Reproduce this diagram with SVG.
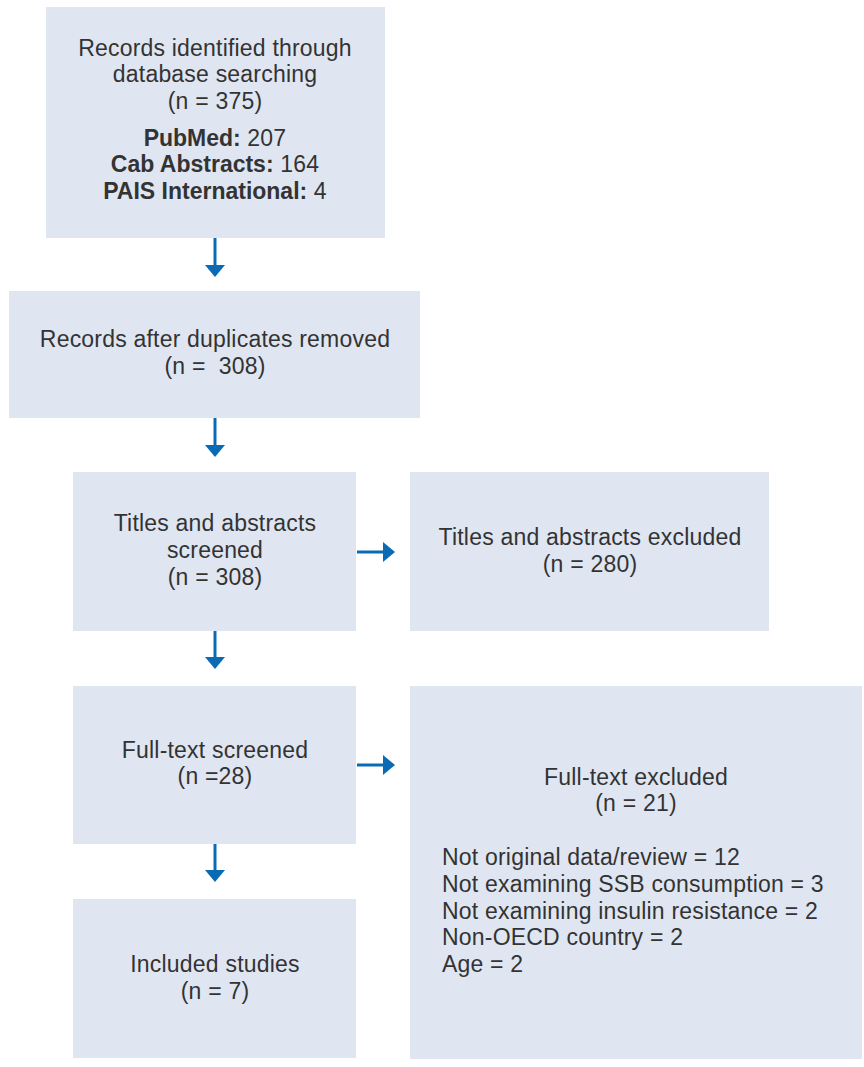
<svg xmlns="http://www.w3.org/2000/svg" width="864" height="1067" viewBox="0 0 864 1067">
<style>
.box{fill:#dfe6f2}
.t{font-family:"Liberation Sans",Arial,sans-serif;font-size:23px;letter-spacing:0.2px;fill:#333;text-anchor:middle}
.l{text-anchor:start}
.b{font-weight:bold;letter-spacing:0}
.c{stroke:#0a6ab4;stroke-width:3;fill:none}
.h{fill:#0a6ab4}
</style>
<rect width="864" height="1067" fill="#fff"/>
<g id="n1">
<rect class="box" x="46" y="7" width="339" height="231"/>
<text class="t" x="215" y="56">Records identified through</text>
<text class="t" x="215" y="82">database searching</text>
<text class="t" x="215" y="109">(n = 375)</text>
<text class="t" x="215" y="146"><tspan class="b">PubMed:</tspan> 207</text>
<text class="t" x="215" y="172"><tspan class="b">Cab Abstracts:</tspan> 164</text>
<text class="t" x="215" y="199"><tspan class="b">PAIS International:</tspan> 4</text>
</g>
<g id="n2">
<rect class="box" x="9" y="291" width="411" height="127"/>
<text class="t" x="215" y="347">Records after duplicates removed</text>
<text class="t" x="215" y="374" xml:space="preserve">(n =  308)</text>
</g>
<g id="n3">
<rect class="box" x="73" y="472" width="283" height="159"/>
<text class="t" x="215" y="531">Titles and abstracts</text>
<text class="t" x="215" y="558">screened</text>
<text class="t" x="215" y="585">(n = 308)</text>
</g>
<g id="n4">
<rect class="box" x="410" y="472" width="359" height="159"/>
<text class="t" x="590" y="545">Titles and abstracts excluded</text>
<text class="t" x="590" y="572">(n = 280)</text>
</g>
<g id="n5">
<rect class="box" x="73" y="686" width="283" height="158"/>
<text class="t" x="215" y="758">Full-text screened</text>
<text class="t" x="215" y="784">(n =28)</text>
</g>
<g id="n6">
<rect class="box" x="410" y="686" width="452" height="373"/>
<text class="t" x="636" y="785">Full-text excluded</text>
<text class="t" x="636" y="811">(n = 21)</text>
<text class="t l" x="442" y="865">Not original data/review = 12</text>
<text class="t l" x="442" y="892">Not examining SSB consumption = 3</text>
<text class="t l" x="442" y="919">Not examining insulin resistance = 2</text>
<text class="t l" x="442" y="945">Non-OECD country = 2</text>
<text class="t l" x="442" y="972">Age = 2</text>
</g>
<g id="n7">
<rect class="box" x="73" y="899" width="283" height="159"/>
<text class="t" x="215" y="972">Included studies</text>
<text class="t" x="215" y="999">(n = 7)</text>
</g>
<g id="connectors">
<line class="c" x1="215" y1="238" x2="215" y2="266"/>
<polygon class="h" points="205,265 225,265 215,277"/>
<line class="c" x1="215" y1="418" x2="215" y2="446"/>
<polygon class="h" points="205,445 225,445 215,457"/>
<line class="c" x1="215" y1="631" x2="215" y2="658"/>
<polygon class="h" points="205,657 225,657 215,669"/>
<line class="c" x1="215" y1="844" x2="215" y2="871"/>
<polygon class="h" points="205,870 225,870 215,882"/>
<line class="c" x1="357" y1="552" x2="384" y2="552"/>
<polygon class="h" points="383,542 383,562 395,552"/>
<line class="c" x1="357" y1="765" x2="384" y2="765"/>
<polygon class="h" points="383,755 383,775 395,765"/>
</g>
</svg>
